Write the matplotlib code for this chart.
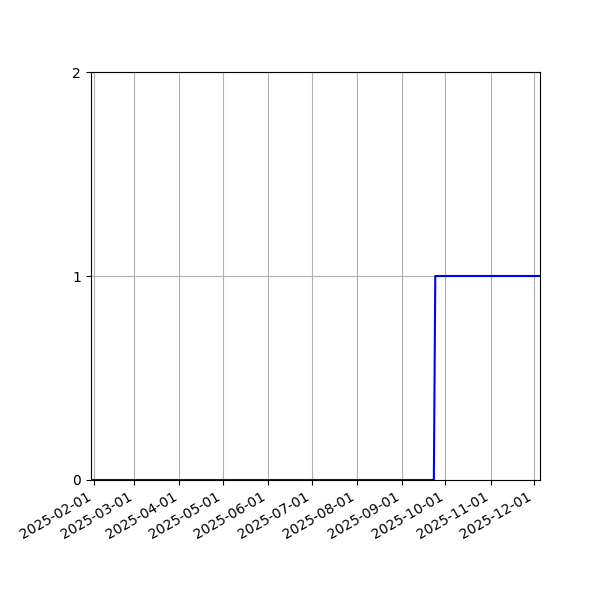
import matplotlib
matplotlib.use("Agg")
import matplotlib.pyplot as plt
import matplotlib.dates as mdates
import pandas as pd

dates = pd.to_datetime(["2025-01-30", "2025-09-23", "2025-09-24", "2025-12-05"])
values = [0, 0, 1, 1]
yticks = [0, 1, 2]

fig, ax = plt.subplots(figsize=(6, 6), dpi=100)
ax.plot(dates, values, color="blue", linewidth=1.5)
ax.set_xlim(dates[0], dates[-1])
ax.set_ylim(0, 2)
ax.set_yticks(yticks)
ax.xaxis.set_major_locator(mdates.MonthLocator())
ax.xaxis.set_major_formatter(mdates.DateFormatter("%Y-%m-%d"))
ax.grid(True)
fig.autofmt_xdate()
fig.subplots_adjust(left=0.151, right=0.9, top=0.88, bottom=0.2)
fig.savefig("out.png")
